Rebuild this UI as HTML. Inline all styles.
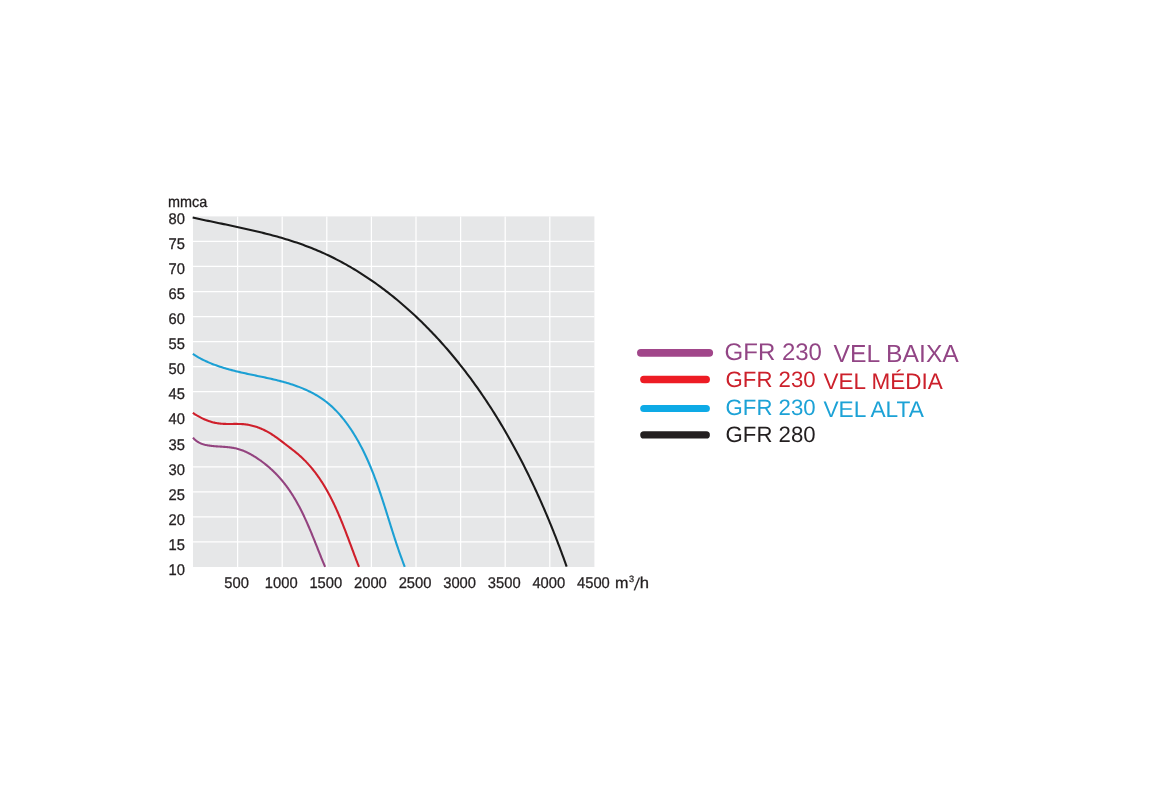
<!DOCTYPE html>
<html><head><meta charset="utf-8"><style>
html,body{margin:0;padding:0;background:#fff;width:1150px;height:789px;overflow:hidden}
svg{display:block;will-change:transform}
.ax{font-family:"Liberation Sans",sans-serif;font-size:15.5px;fill:#231f20;stroke:#231f20;stroke-width:0.3px}
.lg{font-family:"Liberation Sans",sans-serif}
</style></head><body>
<svg width="1150" height="789" viewBox="0 0 1150 789" text-rendering="geometricPrecision">
<rect x="193.0" y="216.4" width="401.4" height="350.6" fill="#e6e7e8"/>
<g stroke="#fff" stroke-width="1.25"><line x1="237.60" y1="216.40" x2="237.60" y2="567.00"/><line x1="282.20" y1="216.40" x2="282.20" y2="567.00"/><line x1="326.80" y1="216.40" x2="326.80" y2="567.00"/><line x1="371.40" y1="216.40" x2="371.40" y2="567.00"/><line x1="416.00" y1="216.40" x2="416.00" y2="567.00"/><line x1="460.60" y1="216.40" x2="460.60" y2="567.00"/><line x1="505.20" y1="216.40" x2="505.20" y2="567.00"/><line x1="549.80" y1="216.40" x2="549.80" y2="567.00"/><line x1="193.00" y1="241.44" x2="594.40" y2="241.44"/><line x1="193.00" y1="266.49" x2="594.40" y2="266.49"/><line x1="193.00" y1="291.53" x2="594.40" y2="291.53"/><line x1="193.00" y1="316.57" x2="594.40" y2="316.57"/><line x1="193.00" y1="341.61" x2="594.40" y2="341.61"/><line x1="193.00" y1="366.66" x2="594.40" y2="366.66"/><line x1="193.00" y1="391.70" x2="594.40" y2="391.70"/><line x1="193.00" y1="416.74" x2="594.40" y2="416.74"/><line x1="193.00" y1="441.79" x2="594.40" y2="441.79"/><line x1="193.00" y1="466.83" x2="594.40" y2="466.83"/><line x1="193.00" y1="491.87" x2="594.40" y2="491.87"/><line x1="193.00" y1="516.91" x2="594.40" y2="516.91"/><line x1="193.00" y1="541.96" x2="594.40" y2="541.96"/></g>
<g fill="none" stroke-width="2.1" stroke-linecap="butt" stroke-linejoin="round">
<path d="M193.00 437.62L193.58 438.30L194.18 438.94L194.79 439.54L195.42 440.10L196.07 440.63L196.73 441.13L197.40 441.59L198.09 442.02L198.79 442.42L199.50 442.80L200.23 443.14L200.97 443.46L201.71 443.76L202.47 444.03L203.24 444.28L204.01 444.51L204.79 444.72L205.58 444.91L206.38 445.09L207.19 445.25L207.99 445.40L208.81 445.53L209.63 445.65L210.45 445.77L211.28 445.87L212.11 445.96L212.94 446.05L213.78 446.13L214.61 446.21L215.45 446.27L216.30 446.34L217.14 446.40L217.98 446.46L218.83 446.51L219.68 446.56L220.53 446.62L221.37 446.67L222.22 446.72L223.07 446.78L223.92 446.83L224.76 446.89L225.61 446.96L226.45 447.03L227.30 447.10L228.14 447.19L228.97 447.27L229.81 447.37L230.64 447.47L231.47 447.59L232.30 447.71L233.13 447.85L233.95 448.00L234.76 448.16L235.57 448.33L236.38 448.52L237.18 448.72L237.98 448.93L238.77 449.16L239.56 449.40L240.35 449.66L241.12 449.92L241.90 450.20L242.67 450.49L243.44 450.80L244.20 451.11L244.96 451.44L245.72 451.77L246.47 452.12L247.21 452.47L247.96 452.84L248.70 453.22L249.43 453.60L250.17 453.99L250.90 454.39L251.62 454.80L252.34 455.22L253.06 455.65L253.78 456.08L254.49 456.52L255.20 456.96L255.91 457.42L256.61 457.87L257.31 458.34L258.01 458.81L258.70 459.28L259.39 459.76L260.08 460.24L260.77 460.73L261.45 461.23L262.13 461.73L262.80 462.23L263.47 462.74L264.14 463.26L264.80 463.78L265.47 464.31L266.12 464.84L266.77 465.37L267.42 465.91L268.07 466.45L268.71 467.00L269.35 467.56L269.98 468.11L270.61 468.67L271.23 469.24L271.85 469.81L272.47 470.39L273.08 470.97L273.69 471.55L274.29 472.14L274.89 472.73L275.48 473.32L276.07 473.92L276.65 474.52L277.23 475.13L277.80 475.74L278.37 476.35L278.93 476.97L279.49 477.59L280.05 478.22L280.59 478.84L281.14 479.48L281.68 480.11L282.21 480.75L282.74 481.39L283.26 482.04L283.78 482.68L284.30 483.33L284.81 483.99L285.32 484.65L285.82 485.31L286.32 485.97L286.81 486.64L287.30 487.31L287.78 487.98L288.26 488.66L288.74 489.33L289.21 490.02L289.68 490.70L290.15 491.39L290.61 492.07L291.06 492.77L291.52 493.46L291.97 494.16L292.41 494.86L292.85 495.56L293.29 496.26L293.73 496.97L294.16 497.68L294.58 498.39L295.01 499.11L295.43 499.82L295.85 500.54L296.26 501.26L296.67 501.98L297.08 502.71L297.48 503.44L297.89 504.17L298.29 504.90L298.68 505.63L299.07 506.36L299.46 507.10L299.85 507.84L300.23 508.58L300.62 509.32L300.99 510.06L301.37 510.81L301.74 511.56L302.12 512.30L302.48 513.05L302.85 513.80L303.21 514.56L303.58 515.31L303.94 516.07L304.29 516.82L304.65 517.58L305.00 518.34L305.35 519.10L305.70 519.86L306.05 520.63L306.39 521.39L306.73 522.16L307.07 522.92L307.41 523.69L307.75 524.46L308.09 525.23L308.42 526.00L308.75 526.77L309.09 527.54L309.42 528.31L309.74 529.08L310.07 529.86L310.40 530.63L310.72 531.40L311.04 532.18L311.37 532.95L311.69 533.73L312.01 534.51L312.32 535.28L312.64 536.06L312.96 536.84L313.27 537.62L313.59 538.39L313.90 539.17L314.22 539.95L314.53 540.73L314.84 541.51L315.15 542.29L315.47 543.06L315.78 543.84L316.09 544.62L316.40 545.40L316.71 546.18L317.02 546.95L317.32 547.73L317.63 548.51L317.94 549.29L318.25 550.06L318.56 550.84L318.87 551.61L319.18 552.39L319.48 553.16L319.79 553.94L320.10 554.71L320.41 555.48L320.72 556.25L321.03 557.02L321.34 557.79L321.65 558.56L321.97 559.33L322.28 560.10L322.59 560.87L322.90 561.63L323.22 562.40L323.53 563.16L323.85 563.92L324.17 564.69L324.48 565.45L324.80 566.20L325.12 566.96" stroke="#93437f"/>
<path d="M192.82 412.85L193.70 413.44L194.58 414.01L195.47 414.57L196.37 415.12L197.26 415.66L198.17 416.18L199.08 416.69L199.99 417.18L200.91 417.66L201.84 418.13L202.77 418.58L203.71 419.01L204.65 419.43L205.59 419.83L206.55 420.22L207.50 420.59L208.46 420.94L209.43 421.27L210.40 421.58L211.38 421.88L212.36 422.15L213.34 422.41L214.33 422.64L215.33 422.86L216.33 423.05L217.33 423.23L218.34 423.38L219.36 423.51L220.37 423.62L221.40 423.71L222.42 423.78L223.45 423.84L224.48 423.88L225.52 423.91L226.55 423.93L227.59 423.95L228.63 423.95L229.67 423.95L230.72 423.94L231.76 423.94L232.80 423.93L233.84 423.92L234.89 423.91L235.93 423.91L236.97 423.92L238.00 423.93L239.04 423.95L240.07 423.98L241.11 424.03L242.13 424.09L243.16 424.16L244.18 424.25L245.20 424.36L246.21 424.49L247.22 424.64L248.22 424.80L249.22 424.99L250.22 425.19L251.21 425.42L252.20 425.66L253.18 425.91L254.16 426.19L255.13 426.48L256.09 426.79L257.06 427.11L258.01 427.45L258.96 427.80L259.91 428.18L260.85 428.56L261.78 428.96L262.71 429.38L263.64 429.80L264.55 430.25L265.47 430.70L266.37 431.17L267.27 431.66L268.16 432.15L269.05 432.66L269.93 433.18L270.81 433.71L271.68 434.25L272.54 434.81L273.40 435.37L274.25 435.95L275.10 436.53L275.94 437.12L276.78 437.72L277.62 438.32L278.45 438.93L279.28 439.55L280.11 440.17L280.94 440.80L281.76 441.43L282.59 442.06L283.41 442.70L284.23 443.34L285.06 443.98L285.88 444.62L286.71 445.26L287.54 445.90L288.36 446.54L289.20 447.17L290.03 447.81L290.86 448.45L291.69 449.08L292.52 449.72L293.35 450.36L294.17 451.01L294.98 451.66L295.80 452.31L296.60 452.97L297.40 453.64L298.19 454.31L298.97 454.99L299.74 455.67L300.51 456.36L301.26 457.06L302.01 457.76L302.76 458.47L303.49 459.18L304.22 459.91L304.94 460.63L305.66 461.36L306.36 462.10L307.06 462.85L307.76 463.59L308.44 464.35L309.12 465.11L309.80 465.87L310.46 466.64L311.12 467.42L311.77 468.20L312.42 468.98L313.06 469.77L313.69 470.57L314.32 471.37L314.94 472.17L315.56 472.98L316.17 473.80L316.77 474.62L317.37 475.44L317.96 476.27L318.55 477.10L319.13 477.94L319.70 478.78L320.27 479.62L320.84 480.47L321.39 481.32L321.95 482.18L322.50 483.04L323.04 483.90L323.58 484.77L324.11 485.64L324.64 486.52L325.16 487.40L325.68 488.28L326.19 489.17L326.70 490.05L327.20 490.95L327.70 491.84L328.20 492.74L328.69 493.64L329.18 494.55L329.66 495.45L330.14 496.37L330.61 497.28L331.08 498.19L331.55 499.11L332.01 500.03L332.47 500.96L332.92 501.88L333.37 502.81L333.82 503.74L334.26 504.67L334.70 505.61L335.14 506.55L335.57 507.49L336.00 508.43L336.43 509.37L336.86 510.32L337.28 511.26L337.70 512.21L338.11 513.16L338.52 514.11L338.93 515.06L339.34 516.02L339.74 516.97L340.15 517.93L340.55 518.89L340.94 519.85L341.34 520.81L341.73 521.77L342.12 522.73L342.51 523.70L342.89 524.66L343.28 525.63L343.66 526.59L344.04 527.56L344.42 528.52L344.80 529.49L345.17 530.46L345.55 531.43L345.92 532.39L346.29 533.36L346.66 534.33L347.03 535.30L347.40 536.27L347.76 537.23L348.13 538.20L348.49 539.17L348.85 540.14L349.22 541.11L349.58 542.07L349.94 543.04L350.30 544.00L350.66 544.97L351.02 545.93L351.38 546.90L351.74 547.86L352.10 548.82L352.45 549.78L352.81 550.74L353.17 551.70L353.53 552.66L353.89 553.61L354.24 554.57L354.60 555.52L354.96 556.48L355.32 557.43L355.68 558.38L356.04 559.32L356.40 560.27L356.76 561.21L357.13 562.15L357.49 563.09L357.85 564.03L358.22 564.97L358.58 565.90L358.95 566.83" stroke="#cf1f2b"/>
<path d="M192.82 353.98L193.98 354.73L195.15 355.46L196.32 356.17L197.51 356.87L198.70 357.54L199.90 358.20L201.10 358.84L202.32 359.46L203.54 360.07L204.76 360.66L206.00 361.24L207.23 361.80L208.48 362.35L209.73 362.88L210.99 363.40L212.25 363.91L213.52 364.40L214.79 364.88L216.07 365.34L217.35 365.80L218.64 366.24L219.94 366.68L221.23 367.10L222.54 367.51L223.84 367.91L225.15 368.30L226.47 368.69L227.79 369.06L229.11 369.43L230.43 369.79L231.76 370.14L233.09 370.48L234.43 370.82L235.76 371.15L237.10 371.47L238.45 371.79L239.79 372.11L241.14 372.42L242.49 372.72L243.84 373.02L245.19 373.32L246.54 373.62L247.90 373.91L249.25 374.20L250.61 374.48L251.97 374.77L253.33 375.05L254.69 375.34L256.05 375.62L257.41 375.91L258.77 376.19L260.13 376.47L261.49 376.76L262.85 377.05L264.21 377.34L265.56 377.63L266.92 377.93L268.28 378.22L269.63 378.53L270.98 378.83L272.34 379.14L273.69 379.46L275.03 379.78L276.38 380.10L277.73 380.43L279.07 380.77L280.41 381.12L281.74 381.47L283.08 381.83L284.41 382.20L285.73 382.57L287.06 382.96L288.38 383.35L289.70 383.76L291.01 384.17L292.32 384.59L293.62 385.03L294.93 385.47L296.22 385.93L297.51 386.40L298.80 386.88L300.08 387.37L301.36 387.88L302.62 388.40L303.89 388.93L305.14 389.47L306.39 390.03L307.63 390.60L308.86 391.19L310.09 391.78L311.30 392.40L312.51 393.03L313.71 393.67L314.90 394.33L316.07 395.00L317.24 395.69L318.40 396.39L319.55 397.11L320.68 397.85L321.81 398.60L322.92 399.37L324.02 400.16L325.11 400.97L326.18 401.79L327.25 402.63L328.30 403.48L329.33 404.36L330.36 405.24L331.37 406.15L332.37 407.07L333.36 408.00L334.34 408.95L335.30 409.91L336.26 410.89L337.20 411.88L338.13 412.88L339.05 413.89L339.95 414.92L340.85 415.95L341.74 417.00L342.61 418.06L343.47 419.13L344.33 420.21L345.17 421.30L346.00 422.39L346.82 423.50L347.63 424.61L348.43 425.74L349.22 426.86L350.00 428.00L350.78 429.14L351.54 430.29L352.29 431.44L353.03 432.60L353.76 433.77L354.49 434.94L355.20 436.11L355.91 437.29L356.60 438.47L357.29 439.66L357.97 440.85L358.64 442.05L359.30 443.25L359.96 444.45L360.61 445.66L361.24 446.88L361.87 448.09L362.50 449.31L363.11 450.54L363.72 451.77L364.32 453.00L364.92 454.24L365.50 455.48L366.08 456.72L366.66 457.96L367.22 459.21L367.79 460.47L368.34 461.72L368.89 462.98L369.43 464.24L369.97 465.51L370.50 466.77L371.02 468.04L371.54 469.32L372.05 470.59L372.56 471.87L373.07 473.15L373.57 474.43L374.06 475.72L374.55 477.01L375.03 478.30L375.52 479.59L375.99 480.88L376.46 482.18L376.93 483.47L377.40 484.77L377.86 486.07L378.31 487.38L378.77 488.68L379.22 489.99L379.66 491.29L380.11 492.60L380.55 493.91L380.99 495.22L381.42 496.53L381.86 497.84L382.29 499.16L382.72 500.47L383.14 501.78L383.57 503.10L383.99 504.42L384.41 505.73L384.83 507.05L385.25 508.37L385.66 509.68L386.08 511.00L386.50 512.32L386.91 513.64L387.32 514.96L387.73 516.28L388.15 517.59L388.56 518.91L388.97 520.23L389.38 521.54L389.79 522.86L390.20 524.18L390.61 525.49L391.03 526.81L391.44 528.12L391.85 529.43L392.27 530.75L392.68 532.06L393.10 533.37L393.52 534.68L393.94 535.98L394.36 537.29L394.78 538.59L395.20 539.90L395.63 541.20L396.06 542.50L396.49 543.80L396.92 545.09L397.36 546.39L397.80 547.68L398.24 548.97L398.68 550.26L399.13 551.55L399.58 552.83L400.03 554.11L400.49 555.39L400.95 556.67L401.41 557.95L401.88 559.22L402.35 560.49L402.83 561.75L403.31 563.02L403.79 564.28L404.28 565.54L404.77 566.79" stroke="#1ca0d4"/>
<path d="M192.67 217.58L194.87 218.06L197.08 218.53L199.29 219.01L201.50 219.48L203.71 219.94L205.93 220.41L208.15 220.87L210.37 221.34L212.59 221.80L214.82 222.26L217.04 222.72L219.27 223.19L221.50 223.65L223.73 224.11L225.97 224.58L228.20 225.05L230.43 225.52L232.66 225.99L234.90 226.47L237.13 226.95L239.36 227.43L241.60 227.92L243.83 228.41L246.06 228.91L248.29 229.41L250.52 229.92L252.75 230.43L254.97 230.95L257.19 231.48L259.42 232.02L261.63 232.56L263.85 233.11L266.06 233.67L268.28 234.24L270.48 234.82L272.69 235.41L274.89 236.01L277.09 236.61L279.28 237.23L281.47 237.86L283.65 238.50L285.83 239.16L288.01 239.82L290.18 240.50L292.34 241.19L294.50 241.90L296.66 242.62L298.81 243.35L300.95 244.10L303.09 244.86L305.22 245.64L307.34 246.44L309.46 247.25L311.57 248.07L313.67 248.92L315.77 249.78L317.86 250.66L319.94 251.56L322.01 252.47L324.08 253.40L326.14 254.35L328.19 255.31L330.23 256.29L332.27 257.28L334.30 258.30L336.32 259.32L338.33 260.37L340.33 261.43L342.33 262.50L344.32 263.59L346.30 264.70L348.27 265.82L350.24 266.95L352.20 268.10L354.15 269.26L356.09 270.44L358.02 271.63L359.95 272.83L361.86 274.05L363.77 275.28L365.67 276.53L367.57 277.79L369.45 279.06L371.33 280.34L373.20 281.64L375.06 282.95L376.91 284.27L378.75 285.60L380.58 286.95L382.41 288.30L384.23 289.67L386.04 291.05L387.84 292.44L389.63 293.84L391.41 295.25L393.19 296.68L394.95 298.11L396.71 299.56L398.46 301.01L400.20 302.47L401.93 303.95L403.65 305.43L405.36 306.92L407.07 308.43L408.76 309.94L410.45 311.46L412.13 312.99L413.80 314.53L415.46 316.08L417.11 317.63L418.75 319.20L420.39 320.77L422.01 322.35L423.63 323.95L425.24 325.55L426.84 327.16L428.43 328.77L430.01 330.40L431.59 332.03L433.16 333.67L434.71 335.32L436.26 336.98L437.80 338.65L439.34 340.32L440.86 342.00L442.38 343.69L443.88 345.39L445.38 347.09L446.88 348.80L448.36 350.52L449.83 352.25L451.30 353.98L452.76 355.73L454.21 357.47L455.65 359.23L457.09 360.99L458.51 362.76L459.93 364.54L461.34 366.32L462.75 368.11L464.14 369.91L465.53 371.71L466.91 373.52L468.28 375.34L469.64 377.16L471.00 378.99L472.34 380.83L473.68 382.67L475.02 384.51L476.34 386.37L477.66 388.23L478.97 390.09L480.27 391.96L481.56 393.84L482.85 395.72L484.13 397.61L485.40 399.50L486.67 401.40L487.92 403.31L489.17 405.22L490.42 407.13L491.65 409.05L492.88 410.98L494.10 412.91L495.31 414.84L496.52 416.78L497.72 418.73L498.91 420.67L500.09 422.63L501.27 424.59L502.44 426.55L503.60 428.52L504.76 430.49L505.90 432.47L507.05 434.45L508.18 436.43L509.31 438.42L510.43 440.41L511.54 442.41L512.65 444.41L513.75 446.41L514.84 448.42L515.93 450.43L517.01 452.44L518.08 454.46L519.14 456.49L520.20 458.51L521.26 460.54L522.30 462.57L523.34 464.60L524.37 466.64L525.40 468.68L526.42 470.73L527.43 472.77L528.44 474.82L529.44 476.87L530.43 478.93L531.42 480.99L532.40 483.05L533.37 485.11L534.34 487.17L535.30 489.24L536.26 491.31L537.21 493.38L538.15 495.45L539.09 497.53L540.02 499.60L540.94 501.68L541.86 503.76L542.77 505.84L543.68 507.93L544.58 510.01L545.47 512.10L546.36 514.19L547.24 516.28L548.12 518.37L548.99 520.46L549.85 522.55L550.71 524.65L551.56 526.74L552.41 528.84L553.25 530.93L554.08 533.03L554.91 535.13L555.73 537.23L556.55 539.33L557.36 541.43L558.17 543.53L558.97 545.63L559.76 547.73L560.55 549.83L561.34 551.93L562.11 554.03L562.89 556.13L563.65 558.23L564.42 560.33L565.17 562.43L565.92 564.53L566.67 566.63" stroke="#1a1a1a"/>
</g>
<g class="ax">
<text transform="translate(168 206.8) scale(0.93 1)">mmca</text>
<text transform="translate(184.9 224.1) scale(0.95 1)" text-anchor="end">80</text>
<text transform="translate(184.9 249.1) scale(0.95 1)" text-anchor="end">75</text>
<text transform="translate(184.9 274.2) scale(0.95 1)" text-anchor="end">70</text>
<text transform="translate(184.9 299.2) scale(0.95 1)" text-anchor="end">65</text>
<text transform="translate(184.9 324.3) scale(0.95 1)" text-anchor="end">60</text>
<text transform="translate(184.9 349.3) scale(0.95 1)" text-anchor="end">55</text>
<text transform="translate(184.9 374.4) scale(0.95 1)" text-anchor="end">50</text>
<text transform="translate(184.9 399.4) scale(0.95 1)" text-anchor="end">45</text>
<text transform="translate(184.9 424.4) scale(0.95 1)" text-anchor="end">40</text>
<text transform="translate(184.9 449.5) scale(0.95 1)" text-anchor="end">35</text>
<text transform="translate(184.9 474.5) scale(0.95 1)" text-anchor="end">30</text>
<text transform="translate(184.9 499.6) scale(0.95 1)" text-anchor="end">25</text>
<text transform="translate(184.9 524.6) scale(0.95 1)" text-anchor="end">20</text>
<text transform="translate(184.9 549.7) scale(0.95 1)" text-anchor="end">15</text>
<text transform="translate(184.9 574.7) scale(0.95 1)" text-anchor="end">10</text>
<text transform="translate(236.6 588) scale(0.95 1)" text-anchor="middle">500</text>
<text transform="translate(281.2 588) scale(0.95 1)" text-anchor="middle">1000</text>
<text transform="translate(325.8 588) scale(0.95 1)" text-anchor="middle">1500</text>
<text transform="translate(370.4 588) scale(0.95 1)" text-anchor="middle">2000</text>
<text transform="translate(415.0 588) scale(0.95 1)" text-anchor="middle">2500</text>
<text transform="translate(459.6 588) scale(0.95 1)" text-anchor="middle">3000</text>
<text transform="translate(504.2 588) scale(0.95 1)" text-anchor="middle">3500</text>
<text transform="translate(548.8 588) scale(0.95 1)" text-anchor="middle">4000</text>
<text transform="translate(593.4 588) scale(0.95 1)" text-anchor="middle">4500</text>
<text transform="translate(615.1 587.8) scale(1.04 1)">m</text><text x="628.9" y="581.9" font-size="9.2">3</text><text transform="translate(633.8 589.6) skewX(-7.5)" font-size="16.8" style="stroke-width:0.15px">/</text><text transform="translate(639.8 587.8) scale(1.07 1)">h</text>
</g>
<g stroke-linecap="round">
<line x1="640.9" y1="352.8" x2="709.2" y2="352.8" stroke="#a1468a" stroke-width="7.8"/>
<line x1="643.8" y1="379.5" x2="706.3" y2="379.5" stroke="#ed1c24" stroke-width="7.3"/>
<line x1="643.8" y1="408.5" x2="706.3" y2="408.5" stroke="#0eaae6" stroke-width="7.2"/>
<line x1="643.8" y1="434.9" x2="706.3" y2="434.9" stroke="#231f20" stroke-width="7.2"/>
</g>
<g class="lg">
<text x="724.6" y="359.7" font-size="24" fill="#924585">GFR 230</text>
<text x="833.5" y="361.5" font-size="24.7" fill="#924585">VEL BAIXA</text>
<text x="725.6" y="386.9" font-size="22.2" fill="#cc202b">GFR 230</text>
<text x="823.5" y="389" font-size="22.5" fill="#cc202b">VEL MÉDIA</text>
<text x="725.6" y="414.5" font-size="22.2" fill="#1ca2d6">GFR 230</text>
<text x="823.4" y="417" font-size="22.7" fill="#1ca2d6">VEL ALTA</text>
<text x="725.6" y="441.9" font-size="22.2" fill="#231f20">GFR 280</text>
</g>
</svg>
</body></html>
